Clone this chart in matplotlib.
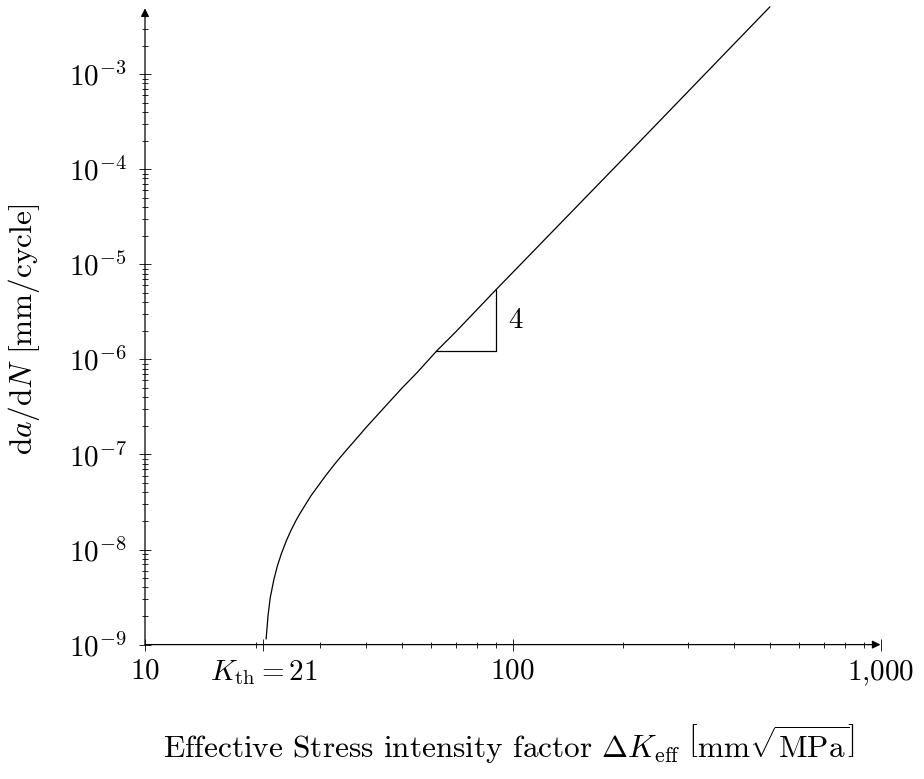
import numpy as np
import matplotlib
matplotlib.use('Agg')
import matplotlib.pyplot as plt
from matplotlib.ticker import FixedLocator, NullFormatter, LogLocator

plt.rcParams['font.family'] = 'serif'
plt.rcParams['font.serif'] = ['cmr10', 'DejaVu Serif']
plt.rcParams['mathtext.fontset'] = 'cm'
plt.rcParams['axes.unicode_minus'] = False

# curve (Delta K_eff, da/dN)
delta_k = [21.35, 21.6, 21.9, 22.4, 22.9, 23.5, 24.3, 25, 25.7, 26.4, 27.5, 28.3, 29.3, 31,
           33.2, 35, 37.3, 40, 45, 50, 55, 62, 70, 90, 200, 500]
dadn = [1.15e-9, 2.0e-9, 3.1e-9, 4.8e-9, 6.7e-9, 9.1e-9, 1.27e-8, 1.62e-8, 2.0e-8, 2.4e-8,
        3.1e-8, 3.7e-8, 4.45e-8, 6.0e-8, 8.4e-8, 1.07e-7, 1.42e-7, 1.94e-7, 3.2e-7, 5.0e-7,
        7.3e-7, 1.22e-6, 1.95e-6, 5.4e-6, 1.3e-4, 5.1e-3]

# slope triangle
tri_x = [62, 90, 90]
tri_y = [1.22e-6, 1.22e-6, 5.4e-6]
slope_label = '4'

xticks = [10, 21, 100, 1000]
xticklabels = [r'$10$', r'$K_{\mathrm{th}} = 21$', r'$100$', r'$1{,}000$']
yticks = [1e-9, 1e-8, 1e-7, 1e-6, 1e-5, 1e-4, 1e-3]
yticklabels = [r'$10^{-9}$', r'$10^{-8}$', r'$10^{-7}$', r'$10^{-6}$',
               r'$10^{-5}$', r'$10^{-4}$', r'$10^{-3}$']

fig = plt.figure(figsize=(9.24, 7.79), dpi=100)
ax = fig.add_axes([145 / 924, 134.4 / 779, 735.5 / 924, 624.4 / 779])
ax.set_xscale('log')
ax.set_yscale('log')
ax.set_xlim(10, 1000)
ax.set_ylim(1e-9, 3.7e-3)

ax.plot(delta_k, dadn, color='black', lw=0.9, clip_on=False)
ax.plot(tri_x, tri_y, color='black', lw=0.9)
ax.text(97, np.sqrt(tri_y[1] * tri_y[2]), slope_label, ha='left', va='center', fontsize=21)

for s in ax.spines.values():
    s.set_visible(False)
arrow = dict(arrowstyle='-|>', color='black', lw=0.9, shrinkA=0, shrinkB=0, mutation_scale=12)
ax.annotate('', xy=(1, 0), xytext=(0, 0), xycoords='axes fraction', arrowprops=arrow)
ax.annotate('', xy=(0, 1.019), xytext=(0, 0), xycoords='axes fraction', arrowprops=arrow)

ax.xaxis.set_major_locator(FixedLocator(xticks))
ax.set_xticklabels(xticklabels)
ax.xaxis.set_minor_locator(LogLocator(base=10, subs=np.arange(2, 10)))
ax.xaxis.set_minor_formatter(NullFormatter())
ax.yaxis.set_major_locator(FixedLocator(yticks))
ax.set_yticklabels(yticklabels)
ax.yaxis.set_minor_locator(LogLocator(base=10, subs=np.arange(2, 10), numticks=20))
ax.yaxis.set_minor_formatter(NullFormatter())

ax.tick_params(which='major', direction='inout', length=8, width=0.6, labelsize=21)
ax.tick_params(axis='x', which='major', pad=6)
ax.tick_params(axis='y', which='major', pad=9)
ax.tick_params(which='minor', direction='inout', length=5, width=0.6)

fig.text(24 / 924, 1 - 329 / 779, r'$\mathrm{d}a/\mathrm{d}N\ [\mathrm{mm/cycle}]$',
         rotation=90, ha='center', va='center', fontsize=22.5)
fig.text(509 / 924, 1 - 757 / 779,
         r'Effective Stress intensity factor $\Delta K_{\mathrm{eff}}\ \left[\mathrm{mm}\sqrt{\mathrm{MPa}}\right]$',
         ha='center', va='baseline', fontsize=22.5)

fig.savefig('out.png', dpi=100)
